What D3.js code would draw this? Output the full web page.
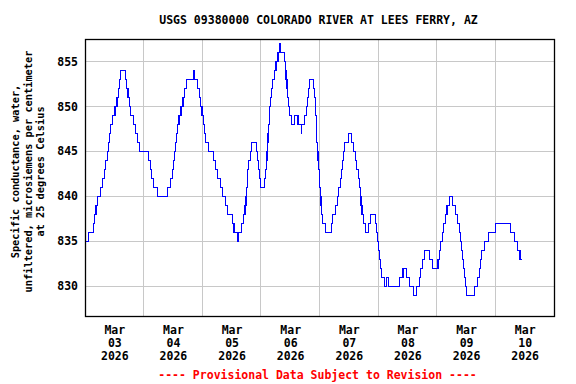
<!DOCTYPE html>
<html>
<head>
<meta charset="utf-8">
<script src="https://cdn.jsdelivr.net/npm/d3@7"></script>
<style>
  body { margin: 0; background: #fff; }
  text { font-family: "DejaVu Sans Mono", monospace; font-weight: bold; }
</style>
</head>
<body>
<div id="main"></div>
<script>
const chartTitle = "USGS 09380000 COLORADO RIVER AT LEES FERRY, AZ";
const yLabelLines = [
  "Specific conductance, water,",
  "unfiltered, microsiemens per centimeter",
  "at 25 degrees Celsius"
];
const footNote = "---- Provisional Data Subject to Revision ----";

// hours since Mar 03 2026 00:00 where the reading changes, and the new reading
const hours = [0, 1.6, 3.4, 4.0, 4.5, 5.2, 6.3, 7.0, 7.8, 8.5, 9.1, 9.6, 10.1, 10.5, 11.3, 12.3, 13.1, 13.6, 14.2, 14.7,
  16.5, 17.1, 17.6, 18.2, 18.8, 19.9, 20.6, 21.6, 22.4, 25.9, 26.8, 27.4, 28.1, 29.5, 33.6, 34.9, 35.8, 36.2, 36.6, 37.0,
  37.5, 37.9, 38.5, 39.3, 40.1, 40.8, 41.5, 44.6, 44.9, 45.9, 47.0, 47.4, 47.9, 48.4, 49.0, 49.5, 50.6, 52.5, 53.6, 54.4,
  55.5, 56.4, 57.5, 58.3, 60.2, 61.0, 62.5, 62.9, 64.1, 65.0, 65.5, 65.9, 66.2, 66.5, 66.7, 67.1, 67.6, 68.1, 70.3, 70.8,
  71.2, 71.5, 71.9, 73.4, 74.0, 74.4, 74.5, 74.6, 74.9, 75.2, 75.5, 75.7, 76.0, 76.4, 76.8, 77.5, 78.2, 79.0, 79.8, 80.0,
  81.6, 81.9, 82.3, 82.7, 83.0, 83.4, 83.9, 84.5, 85.6, 87.2, 88.6, 88.7, 89.8, 90.5, 91.0, 91.6, 91.8, 93.6, 93.9, 94.2,
  94.4, 94.6, 94.7, 94.8, 95.1, 95.4, 95.7, 95.9, 96.1, 96.3, 96.6, 97.0, 97.4, 98.5, 100.8, 101.5, 102.5, 103.2, 103.9, 104.5,
  105.1, 105.5, 105.9, 106.4, 107.8, 109.2, 110.1, 110.7, 111.2, 111.8, 112.3, 112.7, 113.0, 113.4, 114.1, 114.9, 116.0, 116.7, 118.9, 119.3,
  119.7, 120.1, 120.6, 121.0, 121.5, 122.6, 123.4, 124.2, 128.8, 130.2, 131.8, 132.8, 134.6, 135.7, 136.8, 137.4, 138.0, 138.9, 141.1, 142.3,
  144.5, 145.3, 145.7, 146.3, 146.8, 147.4, 148.2, 149.2, 150.5, 151.5, 152.4, 153.4, 153.9, 154.3, 154.6, 154.9, 155.3, 155.7, 156.3, 159.4,
  160.8, 161.4, 162.0, 162.5, 163.4, 165.1, 168.0, 174.1, 175.8, 177.0, 178.1, 178.9];
const readings = [835, 836, 837, 838, 839, 840, 841, 842, 843, 844, 845, 846, 847, 848, 849, 850, 851, 852, 853, 854,
  853, 852, 851, 850, 849, 848, 847, 846, 845, 844, 843, 842, 841, 840, 841, 842, 843, 844, 845, 846,
  847, 848, 849, 850, 851, 852, 853, 854, 853, 852, 851, 850, 849, 848, 847, 846, 845, 844, 843, 842,
  841, 840, 839, 838, 837, 836, 835, 836, 837, 838, 839, 840, 841, 842, 843, 844, 845, 846, 845, 844,
  843, 842, 841, 842, 843, 844, 845, 846, 847, 848, 849, 850, 851, 852, 853, 854, 855, 856, 857, 856,
  855, 854, 853, 852, 851, 850, 849, 848, 849, 848, 847, 848, 849, 850, 851, 852, 853, 852, 851, 850,
  849, 848, 847, 846, 845, 844, 843, 842, 841, 840, 839, 838, 837, 836, 837, 838, 839, 840, 841, 842,
  843, 844, 845, 846, 847, 846, 845, 844, 843, 842, 841, 840, 839, 838, 837, 836, 837, 838, 837, 836,
  835, 834, 833, 832, 831, 830, 831, 830, 831, 832, 831, 830, 829, 830, 831, 832, 833, 834, 833, 832,
  833, 834, 835, 836, 837, 838, 839, 840, 839, 838, 837, 836, 835, 834, 833, 832, 831, 830, 829, 830,
  831, 832, 833, 834, 835, 836, 837, 836, 835, 834, 833, 833];

const yTicks = [830, 835, 840, 845, 850, 855];
const dayLabels = ["03", "04", "05", "06", "07", "08", "09", "10"];

const W = 576, H = 384;
const box = { left: 85, right: 554, top: 39, bottom: 316 };

const start = new Date(2026, 2, 3);
const toDate = (h) => new Date(start.getTime() + h * 3600 * 1000);
const days = dayLabels.map((d, i) => d3.timeDay.offset(start, i));

const x = d3.scaleTime()
  .domain([start, d3.timeDay.offset(start, dayLabels.length)])
  .range([box.left, box.right]);

const y = d3.scaleLinear()
  .domain([826.7, 857.48])
  .range([box.bottom, box.top]);

const svg = d3.select("#main")
  .append("svg")
  .attr("width", W)
  .attr("height", H);

// grid
svg.append("g")
  .attr("shape-rendering", "crispEdges")
  .selectAll("line")
  .data(yTicks)
  .enter()
  .append("line")
  .attr("x1", box.left).attr("x2", box.right)
  .attr("y1", d => y(d)).attr("y2", d => y(d))
  .attr("stroke", "#c8c8c8");

svg.append("g")
  .attr("shape-rendering", "crispEdges")
  .selectAll("line")
  .data(days.slice(1))
  .enter()
  .append("line")
  .attr("x1", d => x(d)).attr("x2", d => x(d))
  .attr("y1", box.top).attr("y2", box.bottom)
  .attr("stroke", "#c8c8c8");

// the series
const points = hours.map((h, i) => ({ t: toDate(h), v: readings[i] }));
const line = d3.line()
  .x(d => x(d.t))
  .y(d => y(d.v))
  .curve(d3.curveStepAfter);

svg.append("path")
  .datum(points)
  .attr("d", line)
  .attr("fill", "none")
  .attr("stroke", "#0000ff")
  .attr("stroke-width", 1.1)
  .attr("shape-rendering", "crispEdges");

svg.append("rect")
  .attr("x", box.left + 0.5)
  .attr("y", box.top + 0.5)
  .attr("width", box.right - box.left)
  .attr("height", box.bottom - box.top)
  .attr("fill", "none")
  .attr("stroke", "#000")
  .attr("stroke-width", 1.3);

// y axis
const yAxis = svg.append("g")
  .attr("transform", `translate(${box.left - 7},0)`)
  .call(d3.axisLeft(y).tickValues(yTicks).tickSize(0).tickPadding(0));
yAxis.select(".domain").remove();
yAxis.selectAll("text")
  .attr("font-size", "11.5px")
  .attr("font-family", "DejaVu Sans Mono")
  .attr("fill", "#000");

// x axis labels at noon of each day
const noons = days.map(d => d3.timeHour.offset(d, 12));
const xAxis = svg.append("g")
  .attr("transform", `translate(0,${box.bottom})`)
  .call(d3.axisBottom(x).tickValues(noons).tickSize(0).tickFormat(""));
xAxis.select(".domain").remove();

xAxis.selectAll(".tick")
  .each(function(d, i) {
    const t = d3.select(this).append("text")
      .attr("text-anchor", "middle")
      .attr("font-size", "11.5px")
      .attr("fill", "#000");
    ["Mar", dayLabels[i], "2026"].forEach((s, k) => {
      t.append("tspan").attr("x", 0).attr("y", 18 + k * 13).text(s);
    });
  });

// title
svg.append("text")
  .attr("x", (box.left + box.right) / 2 - 1)
  .attr("y", 24)
  .attr("text-anchor", "middle")
  .attr("font-size", "11.5px")
  .text(chartTitle);

// y label
const yl = svg.append("text")
  .attr("transform", `translate(0,${(box.top + box.bottom) / 2 - 6}) rotate(-90)`)
  .attr("text-anchor", "middle")
  .attr("font-size", "10.3px");
yLabelLines.forEach((s, k) => {
  yl.append("tspan").attr("x", 0).attr("y", 19 + k * 12.5).text(s);
});

svg.append("text")
  .attr("x", (box.left + box.right) / 2 - 2)
  .attr("y", 379)
  .attr("text-anchor", "middle")
  .attr("font-size", "11.5px")
  .attr("fill", "#ff0000")
  .text(footNote);
</script>
</body>
</html>
